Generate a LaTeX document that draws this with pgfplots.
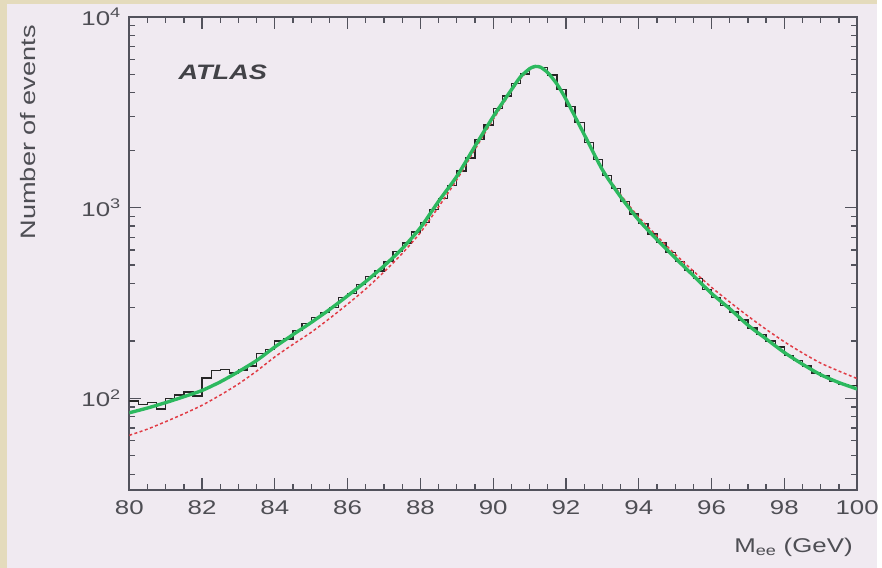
\documentclass[border=0pt]{standalone}
\usepackage{fontspec}
\setmainfont{Liberation Sans}[FakeStretch=1.3]
\usepackage{pgfplots}
\pgfplotsset{compat=1.18}
\usepackage{pgfplotstable}

\definecolor{panel}{RGB}{240,234,241}
\definecolor{framebeige}{RGB}{228,219,188}
\definecolor{axisgray}{RGB}{82,82,92}
\definecolor{textgray}{RGB}{78,78,84}
\definecolor{fitgreen}{RGB}{45,185,95}
\definecolor{bwred}{RGB}{225,60,70}

% measured dilepton mass spectrum, 0.25 GeV bins (left edge, events)
\pgfplotstableread{
m n
79.75 97
80.00 97
80.25 93
80.50 95
80.75 88
81.00 100
81.25 104
81.50 108
81.75 103
82.00 128
82.25 140
82.50 142
82.75 136
83.00 141
83.25 148
83.50 172
83.75 180
84.00 200
84.25 205
84.50 226
84.75 246
85.00 266
85.25 282
85.50 300
85.75 338
86.00 356
86.25 395
86.50 436
86.75 466
87.00 522
87.25 588
87.50 652
87.75 745
88.00 838
88.25 975
88.50 1120
88.75 1305
89.00 1555
89.25 1820
89.50 2270
89.75 2710
90.00 3300
90.25 3850
90.50 4460
90.75 5020
91.00 5420
91.25 5440
91.50 4960
91.75 4180
92.00 3380
92.25 2790
92.50 2190
92.75 1790
93.00 1470
93.25 1260
93.50 1075
93.75 925
94.00 825
94.25 728
94.50 655
94.75 580
95.00 522
95.25 468
95.50 425
95.75 372
96.00 338
96.25 306
96.50 284
96.75 258
97.00 234
97.25 216
97.50 200
97.75 186
98.00 168
98.25 158
98.50 148
98.75 136
99.00 131
99.25 123
99.50 118
99.75 117
100.00 117
}\histdata

% full fit
\pgfplotstableread{
m n
80 84
80.5 89
81 95
81.5 102
82 110
82.5 122
83 138
83.5 158
84 186
84.5 216
85 250
85.5 292
86 345
86.5 410
87 495
87.5 610
88 785
88.5 1080
89 1460
89.5 2100
90 3000
90.5 4150
90.75 4850
91 5350
91.15 5500
91.3 5450
91.5 5100
91.75 4450
92 3700
92.5 2420
93 1580
93.5 1140
94 860
94.5 680
95 545
95.5 440
96 355
96.5 295
97 242
97.5 205
98 174
98.5 151
99 133
99.5 121
100 112
}\fitdata

% Breit-Wigner line shape
\pgfplotstableread{
m n
80 64
80.5 69
81 75.5
81.5 83
82 92
82.5 104
83 119
83.5 139
84 165
84.5 192
85 222
85.5 262
86 312
86.5 375
87 460
87.5 575
88 740
88.5 1010
89 1400
89.5 2020
90 2900
90.5 4080
90.75 4750
91 5280
91.15 5460
91.3 5420
91.5 5100
91.75 4450
92 3720
92.5 2440
93 1600
93.5 1170
94 890
94.5 710
95 570
95.5 465
96 382
96.5 320
97 270
97.5 230
98 198
98.5 173
99 153
99.5 139
100 127
}\bwdata

\begin{document}
\begin{tikzpicture}[x=1pt,y=1pt]
\fill[framebeige] (0,0) rectangle (882,571);
\fill[panel] (7,0) rectangle (882,567);
\begin{axis}[
  at={(130pt,78pt)}, anchor=south west,
  scale only axis, width=732pt, height=476pt,
  xmin=80, xmax=100,
  ymode=log, ymin=33, ymax=10000,
  xtick={80,82,...,100},
  minor x tick num=3,
  ytick={100,1000,10000},
  yticklabels={10\textsuperscript{2},10\textsuperscript{3},10\textsuperscript{4}},
  minor ytick={40,50,60,70,80,90,200,300,400,500,600,700,800,900,2000,3000,4000,5000,6000,7000,8000,9000},
  axis line style={axisgray, line width=1.6pt},
  every tick/.style={axisgray, line width=1.3pt},
  major tick length=12pt, minor tick length=6pt,
  tick align=inside,
  /pgf/number format/assume math mode=true,
  ticklabel style={font=\fontsize{20}{20}\selectfont, text=textgray},
  xticklabel style={yshift=-7pt},
  yticklabel style={xshift=-5pt},
  axis background/.style={fill=panel},
]
\addplot[black!85, line width=1.3pt, const plot mark mid] table[x expr=\thisrow{m}+0.125, y=n] {\histdata};
\addplot[bwred, line width=1.5pt, dash pattern=on 3pt off 2.5pt, smooth, tension=0.4] table[x=m,y=n] {\bwdata};
\addplot[fitgreen, line width=3.4pt, line join=round, smooth, tension=0.4] table[x=m,y=n] {\fitdata};
\end{axis}
\node[anchor=west, text=textgray!85!black, font=\bfseries\itshape\fontsize{21}{21}\selectfont] at (176,498) {ATLAS};
\node[rotate=90, text=textgray, font=\fontsize{21}{21}\selectfont] at (28,438) {Number of events};
\node[anchor=east, text=textgray, font=\fontsize{20}{20}\selectfont] at (861,21) {M\textsubscript{ee} (GeV)};
\end{tikzpicture}
\end{document}
